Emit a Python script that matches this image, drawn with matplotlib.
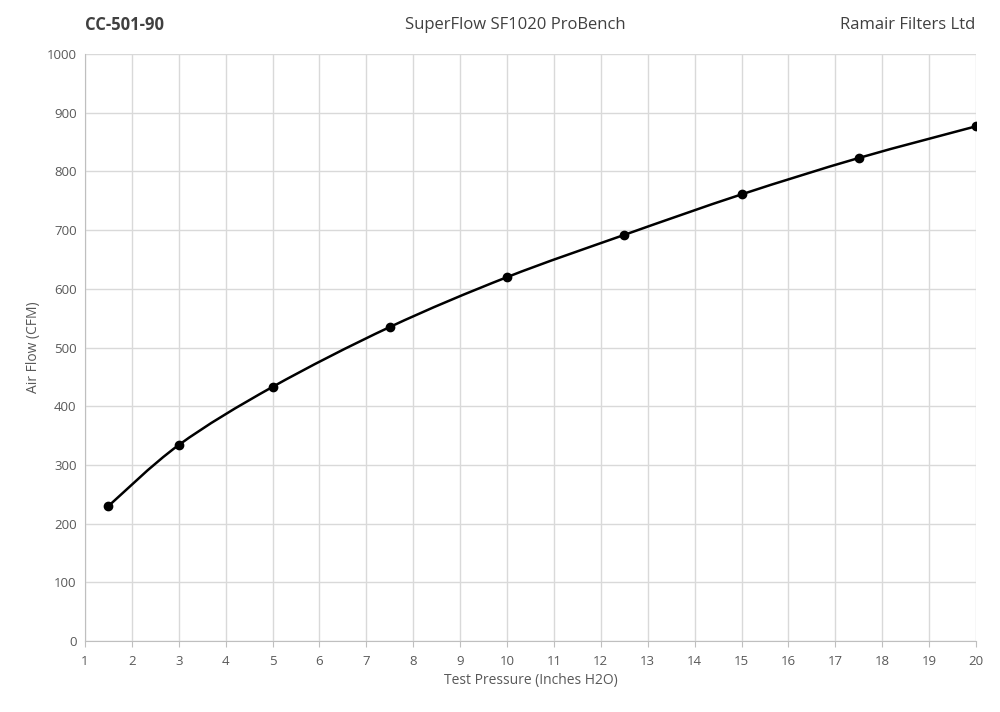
import matplotlib
matplotlib.use("Agg")
import matplotlib.pyplot as plt
from matplotlib.path import Path
from matplotlib.patches import PathPatch
import numpy as np

pressure = [1.5, 3, 5, 7.5, 10, 12.5, 15, 17.5, 20]
airflow = [230, 334, 433, 535, 620, 692, 761, 823, 877]
xticks = list(range(1, 21))
yticks = list(range(0, 1001, 100))

plt.rcParams['font.family'] = ['Open Sans', 'DejaVu Sans']
fig = plt.figure(figsize=(10, 7.12), dpi=100)
ax = fig.add_axes([0.085, 0.0997, 0.891, 0.8243])
ax.set_xlim(1, 20)
ax.set_ylim(0, 1000)
ax.set_xticks(xticks)
ax.set_yticks(yticks)
ax.grid(True, color='#d9d9d9', linewidth=1)
ax.set_axisbelow(True)
for s in ['top', 'right']:
    ax.spines[s].set_visible(False)
for s in ['left', 'bottom']:
    ax.spines[s].set_color('#bfbfbf')
ax.tick_params(colors='#595959', labelsize=9.5, length=0, pad=6)
ax.tick_params(axis='x', length=4, color='#bfbfbf', direction='out')

# smooth Bezier path through data points (Catmull-Rom style)
x = np.array(pressure, float); y = np.array(airflow, float)
verts = [(x[0], y[0])]; codes = [Path.MOVETO]
n = len(x)
for i in range(n - 1):
    p0 = np.array([x[max(i-1, 0)], y[max(i-1, 0)]])
    p1 = np.array([x[i], y[i]]); p2 = np.array([x[i+1], y[i+1]])
    p3 = np.array([x[min(i+2, n-1)], y[min(i+2, n-1)]])
    c1 = p1 + (p2 - p0) / 6; c2 = p2 - (p3 - p1) / 6
    verts += [tuple(c1), tuple(c2), tuple(p2)]
    codes += [Path.CURVE4] * 3
ax.add_patch(PathPatch(Path(verts, codes), fill=False, edgecolor='black', lw=1.8, zorder=3))
ax.plot(pressure, airflow, 'o', color='black', markersize=6, zorder=4)

ax.set_xlabel('Test Pressure (Inches H2O)', color='#595959', fontsize=10)
ax.set_ylabel('Air Flow (CFM)', color='#595959', fontsize=10)
fig.text(0.085, 0.965, 'CC-501-90', fontsize=12, fontweight='bold', color='#404040', ha='left', va='center')
fig.text(0.515, 0.965, 'SuperFlow SF1020 ProBench', fontsize=12, color='#404040', ha='center', va='center')
fig.text(0.975, 0.965, 'Ramair Filters Ltd', fontsize=12, color='#404040', ha='right', va='center')
fig.savefig('out.png', dpi=100)
